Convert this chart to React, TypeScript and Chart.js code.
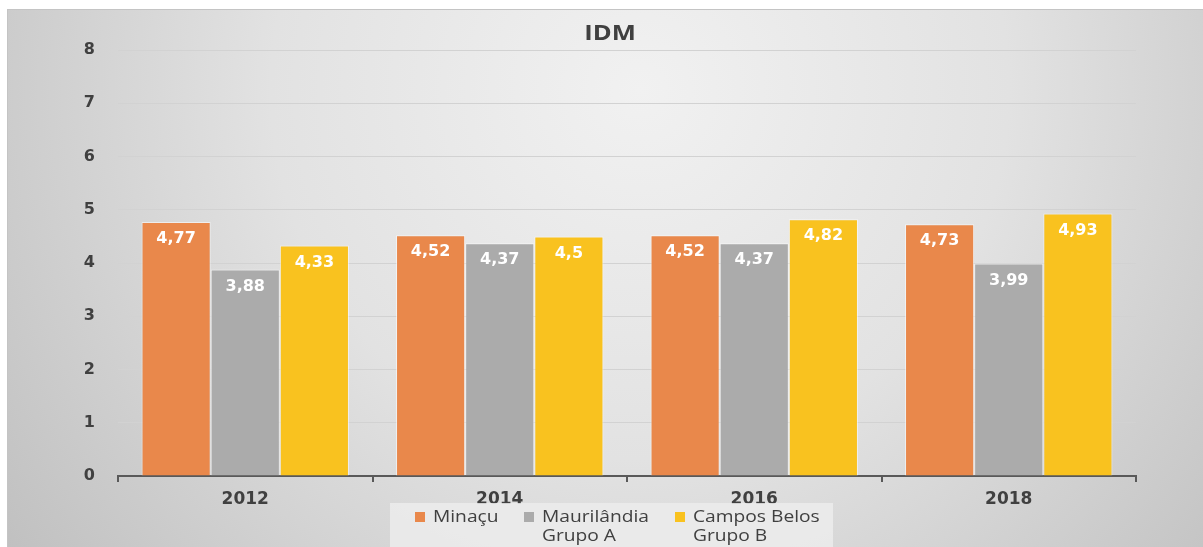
import React, { useEffect, useRef } from "react";
import { Chart, registerables } from "chart.js";

Chart.register(...registerables);

const categories: string[] = ["2012", "2014", "2016", "2018"];
const minacu: number[] = [4.77, 4.52, 4.52, 4.73];
const maurilandia: number[] = [3.88, 4.37, 4.37, 3.99];
const camposBelos: number[] = [4.33, 4.5, 4.82, 4.93];
const seriesLabels: string[][] = [["Minaçu"], ["Maurilândia", "Grupo A"], ["Campos Belos", "Grupo B"]];
const seriesColors: string[] = ["#E9884B", "#ABABAB", "#F9C21F"];
const chartTitle = "IDM";

const W = 1203;
const H = 547;
const FONT = "'Open Sans', 'DejaVu Sans', sans-serif";
const WIDE = "'DejaVu Sans', 'Open Sans', sans-serif";

const fmt = (v: number) => String(v).replace(".", ",");

const bgPlugin = {
  id: "bgPlugin",
  beforeDraw(chart: any) {
    const ctx = chart.ctx as CanvasRenderingContext2D;
    ctx.save();
    ctx.fillStyle = "#ffffff";
    ctx.fillRect(0, 0, W, H);
    const g = ctx.createRadialGradient(640, 90, 0, 640, 90, 820);
    g.addColorStop(0, "#f1f1f1");
    g.addColorStop(0.45, "#e2e2e2");
    g.addColorStop(1, "#bdbdbd");
    ctx.fillStyle = g;
    ctx.fillRect(7, 9, W - 7, H - 9);
    ctx.strokeStyle = "#c4c4c4";
    ctx.lineWidth = 1;
    ctx.beginPath();
    ctx.moveTo(7, 9.5);
    ctx.lineTo(W, 9.5);
    ctx.moveTo(7.5, 9);
    ctx.lineTo(7.5, H);
    ctx.stroke();
    // title (horizontally stretched like the reference)
    ctx.fillStyle = "#404040";
    ctx.font = `bold 21px ${FONT}`;
    ctx.textAlign = "center";
    ctx.textBaseline = "alphabetic";
    ctx.translate(610, 40);
    ctx.scale(1.22, 1);
    ctx.fillText(chartTitle, 0, 0);
    ctx.restore();
  },
};

const labelPlugin = {
  id: "labelPlugin",
  afterDatasetsDraw(chart: any) {
    const ctx = chart.ctx as CanvasRenderingContext2D;
    ctx.save();
    ctx.fillStyle = "#ffffff";
    ctx.font = `bold 16px ${WIDE}`;
    ctx.textAlign = "center";
    ctx.textBaseline = "middle";
    chart.data.datasets.forEach((ds: any, di: number) => {
      const meta = chart.getDatasetMeta(di);
      meta.data.forEach((bar: any, i: number) => {
        ctx.fillText(fmt(ds.data[i]), bar.x, bar.y + 17);
      });
    });
    ctx.restore();
  },
};

const legendPlugin = {
  id: "legendPlugin",
  afterDraw(chart: any) {
    const ctx = chart.ctx as CanvasRenderingContext2D;
    ctx.save();
    ctx.fillStyle = "rgba(236,236,236,0.85)";
    ctx.fillRect(390, 503, 443, 44);
    const boxX = [415, 524, 675];
    ctx.font = `16px ${FONT}`;
    ctx.textAlign = "left";
    ctx.textBaseline = "alphabetic";
    seriesLabels.forEach((lines, i) => {
      ctx.fillStyle = seriesColors[i];
      ctx.fillRect(boxX[i], 512, 10, 10);
      ctx.fillStyle = "#404040";
      lines.forEach((t, li) => {
        ctx.save();
        ctx.translate(boxX[i] + 18, 522 + li * 19);
        ctx.scale(1.2, 1);
        ctx.fillText(t, 0, 0);
        ctx.restore();
      });
    });
    ctx.restore();
  },
};

export default function App() {
  const ref = useRef<HTMLCanvasElement | null>(null);
  useEffect(() => {
    document.body.style.margin = "0";
    const canvas = ref.current!;
    const datasets = [minacu, maurilandia, camposBelos].map((d, i) => ({
      label: seriesLabels[i].join(" "),
      data: d,
      backgroundColor: seriesColors[i],
      borderColor: "rgba(255,255,255,0.55)",
      borderWidth: 1,
      barPercentage: 1,
      categoryPercentage: 0.815,
    }));
    const chart = new Chart(canvas, {
      type: "bar",
      data: { labels: categories, datasets },
      options: {
        responsive: false,
        animation: false,
        devicePixelRatio: 1,
        layout: { padding: { left: 0, right: 67, top: 50, bottom: 0 } },
        plugins: {
          legend: { display: false },
          title: { display: false },
          tooltip: { enabled: false },
        },
        scales: {
          x: {
            grid: {
              drawOnChartArea: false,
              drawTicks: true,
              tickLength: 6,
              color: "#595959",
              lineWidth: 2,
            },
            border: { color: "#595959", width: 2 },
            ticks: {
              color: "#404040",
              font: { family: WIDE, weight: "bold", size: 17 },
              padding: 7,
            },
            afterFit: (s: any) => {
              s.height = 71;
            },
          },
          y: {
            min: 0,
            max: 8,
            ticks: {
              stepSize: 1,
              color: "#404040",
              font: { family: WIDE, weight: "bold", size: 16 },
              padding: 23,
            },
            grid: { color: "#d2d2d2", lineWidth: 1, drawTicks: false },
            border: { display: false },
            afterFit: (s: any) => {
              s.width = 118;
            },
          },
        },
      } as any,
      plugins: [bgPlugin, labelPlugin, legendPlugin],
    });
    return () => chart.destroy();
  }, []);
  return (
    <div style={{ width: W, height: H }}>
      <canvas ref={ref} width={W} height={H} style={{ display: "block" }} />
    </div>
  );
}
